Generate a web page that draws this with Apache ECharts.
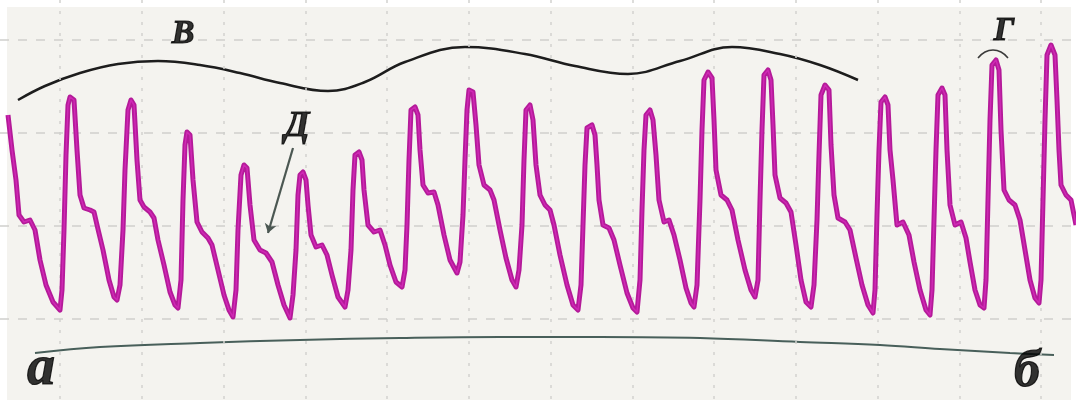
<!DOCTYPE html>
<html>
<head>
<meta charset="utf-8">
<script src="https://cdn.jsdelivr.net/npm/echarts@6/dist/echarts.min.js"></script>
<style>
  html, body { margin: 0; padding: 0; background: #ffffff; }
  #chart { width: 1076px; height: 403px; }
</style>
</head>
<body>
<div id="chart"></div>
<script>
// Pulse wave (x = time in samples, y = recorder row, inverted axis)
var pulseWave = [
  [8,115],[12,150],[16,180],[19,215],[24,222],[30,220],[35,230],[40,260],[46,285],[53,302],[60,310],
  [62,290],[64,230],[66,155],[68,105],[70,97],[74,100],[77,150],[80,195],[84,208],[90,210],[94,212],[97,225],[103,250],[109,280],[114,297],[117,300],
  [120,285],[123,230],[125,170],[128,110],[131,100],[134,105],[137,160],[140,200],[144,207],[150,212],[154,218],[158,240],[164,265],[170,292],[175,305],[178,308],
  [181,280],[183,200],[185,145],[187,132],[190,135],[193,180],[197,222],[202,232],[208,238],[212,245],[218,270],[224,295],[229,310],[233,317],
  [236,290],[238,230],[241,175],[244,165],[247,168],[250,205],[254,240],[260,250],[266,253],[272,262],[278,285],[284,305],[290,318],
  [293,295],[296,250],[298,195],[300,175],[303,172],[306,180],[308,205],[311,235],[316,247],[322,245],[327,255],[332,275],[338,297],[345,307],
  [348,290],[351,250],[353,190],[355,155],[359,152],[362,160],[364,190],[368,225],[374,232],[380,230],[385,245],[390,265],[396,282],[402,287],
  [405,270],[407,225],[409,160],[411,110],[415,107],[418,115],[420,150],[423,185],[428,193],[434,192],[438,205],[444,235],[450,260],[457,273],
  [460,262],[463,215],[465,160],[467,110],[469,90],[473,92],[476,125],[479,165],[484,185],[490,190],[494,200],[500,230],[506,258],[512,280],[516,287],
  [519,270],[522,225],[524,160],[526,110],[530,105],[533,120],[536,165],[540,195],[545,205],[550,210],[554,225],[560,255],[567,285],[573,305],[578,310],
  [581,285],[583,225],[585,165],[587,128],[592,125],[595,135],[597,165],[599,200],[603,225],[609,228],[614,240],[620,265],[627,293],[633,308],[637,312],
  [640,280],[642,210],[644,150],[646,115],[650,110],[653,120],[656,155],[659,200],[664,222],[669,220],[674,235],[680,260],[686,288],[691,303],[694,307],
  [697,285],[700,200],[702,130],[704,80],[708,72],[712,78],[714,120],[716,170],[721,195],[727,200],[732,210],[738,240],[745,270],[751,290],[755,297],
  [758,280],[760,200],[762,130],[764,75],[768,70],[771,80],[773,125],[775,175],[780,198],[786,203],[791,212],[796,245],[801,280],[806,302],[811,307],
  [814,285],[817,220],[819,155],[821,95],[825,85],[829,90],[831,145],[834,195],[838,218],[845,222],[850,230],[856,258],[862,285],[868,305],[873,313],
  [875,290],[877,215],[879,150],[881,102],[885,97],[888,105],[890,150],[893,180],[897,225],[903,222],[909,235],[914,262],[920,290],[926,310],[930,315],
  [932,290],[934,220],[936,150],[938,95],[942,88],[945,95],[947,150],[950,205],[955,225],[961,222],[966,238],[970,262],[975,290],[980,305],[984,308],
  [986,280],[988,200],[990,120],[992,65],[996,60],[999,70],[1001,130],[1004,190],[1009,200],[1015,205],[1020,220],[1025,250],[1030,280],[1035,298],[1039,303],
  [1041,280],[1043,200],[1045,120],[1047,55],[1051,45],[1055,55],[1057,100],[1059,150],[1061,185],[1066,195],[1071,200],[1076,225]
];

// Upper envelope "В"
var upperEnvelope = [
  [18,100],[45,86],[80,73],[118,64],[158,61],[200,65],[240,73],[280,83],[328,91],[365,82],
  [405,62],[465,47],[525,54],[575,66],[628,74],[680,61],[732,47],[780,54],[820,65],[858,80]
];

// Baseline arc "а–б"
var baseArc = [
  [35,353],[100,347],[200,343],[300,340],[400,338],[500,337],[600,337],[700,338],[800,342],
  [880,345],[940,349],[1010,353],[1054,355]
];

// Small arc above peak "Г"
var peakArc = [[978,58],[985,52],[993,50],[1001,52],[1008,58]];

// Arrow from "Д" to the dicrotic notch
var arrowFrom = [293,148];
var arrowTo = [268,233];

// Letter labels
var letters = [
  { name: 'В', value: [183,34], size: 34 },
  { name: 'Г', value: [1004,31], size: 34 },
  { name: 'Д', value: [297,127], size: 36 },
  { name: 'а', value: [41,370], size: 56 },
  { name: 'б', value: [1027,373], size: 52 }
];

// Chart grid lines
var xGrid = [60,142,224,306,387,469,551,633,714,796,878,960,1041];
var yGrid = [40,133,226,319];

var chart = echarts.init(document.getElementById('chart'), null, { renderer: 'canvas' });

var option = {
  animation: false,
  backgroundColor: '#ffffff',
  graphic: [{
    type: 'rect', z: -10, silent: true,
    shape: { x: 7, y: 7, width: 1064, height: 393 },
    style: { fill: '#f4f3ef' }
  }],
  grid: { left: 0, right: 0, top: 0, bottom: 0, containLabel: false },
  xAxis: {
    type: 'value', min: 0, max: 1076,
    axisLine: { show: false }, axisTick: { show: false }, axisLabel: { show: false },
    splitLine: { show: false }
  },
  yAxis: {
    type: 'value', min: 0, max: 403, inverse: true,
    axisLine: { show: false }, axisTick: { show: false }, axisLabel: { show: false },
    splitLine: { show: false }
  },
  series: [
    {
      type: 'line', data: [], silent: true,
      markLine: {
        silent: true, symbol: 'none', label: { show: false },
        lineStyle: { color: '#d2d2d0', width: 1.5, type: [3, 8] },
        data: xGrid.map(function (v) { return { xAxis: v }; })
      }
    },
    {
      type: 'line', data: [], silent: true,
      markLine: {
        silent: true, symbol: 'none', label: { show: false },
        lineStyle: { color: '#cfcfcd', width: 1.5, type: [9, 9] },
        data: yGrid.map(function (v) { return { yAxis: v }; })
      }
    },
    {
      type: 'line', data: baseArc, smooth: 0.4, showSymbol: false, silent: true,
      lineStyle: { color: '#485f5a', width: 2 }
    },
    {
      type: 'line', data: upperEnvelope, smooth: 0.4, showSymbol: false, silent: true,
      lineStyle: { color: '#1d1d1d', width: 2.5 }
    },
    {
      type: 'line', data: peakArc, smooth: true, showSymbol: false, silent: true,
      lineStyle: { color: '#3a3a3a', width: 1.5 }
    },
    {
      type: 'line', data: pulseWave, showSymbol: false, silent: true,
      lineStyle: { color: '#b41a99', width: 5, join: 'round' },
      z: 5
    },
    {
      type: 'line', data: pulseWave, showSymbol: false, silent: true,
      lineStyle: { color: '#d62cbb', width: 1.5, join: 'round', opacity: 0.8 },
      z: 6
    },
    {
      type: 'line', data: [], silent: true,
      markLine: {
        silent: true, symbol: ['none', 'arrow'], symbolSize: 9, label: { show: false },
        lineStyle: { color: '#4b5752', width: 2.2, type: 'solid' },
        data: [[{ coord: arrowFrom }, { coord: arrowTo }]]
      }
    },
    {
      type: 'scatter', symbolSize: 0, silent: true, z: 10,
      data: letters.map(function (d) {
        return {
          value: d.value,
          label: {
            show: true, position: 'inside', formatter: d.name,
            fontFamily: 'Liberation Serif', fontStyle: 'italic', fontWeight: 'bold',
            fontSize: d.size, color: '#000000',
            textBorderColor: '#000000', textBorderWidth: 1.2
          }
        };
      })
    }
  ]
};

chart.setOption(option);
</script>
</body>
</html>
